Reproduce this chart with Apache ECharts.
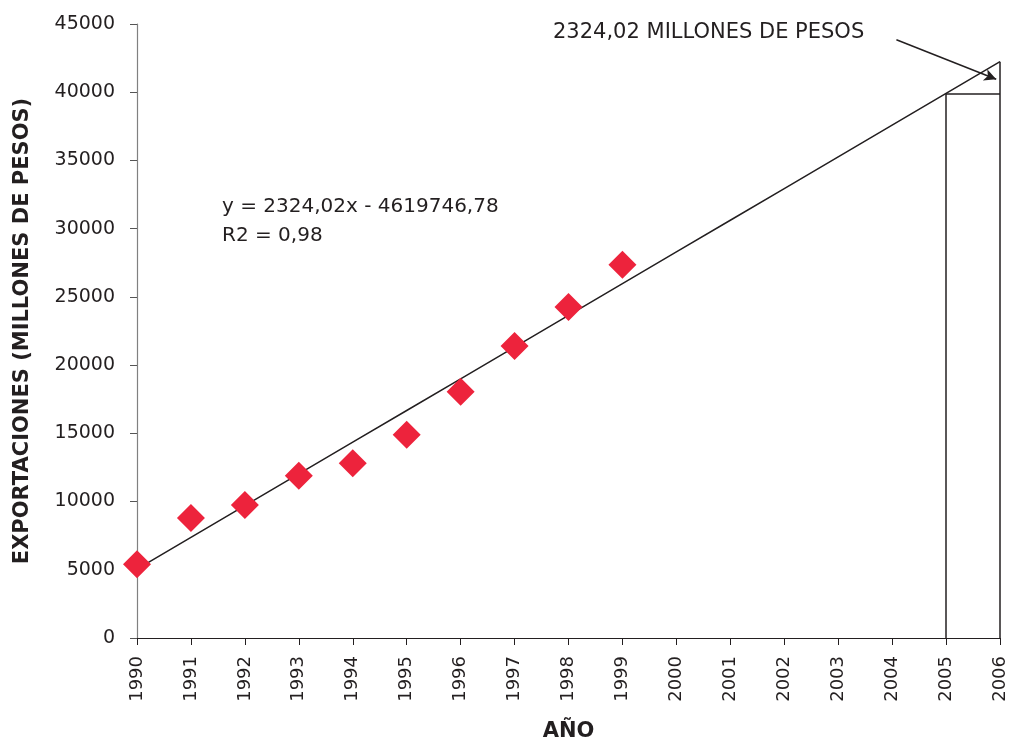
<!DOCTYPE html>
<html>
<head>
<meta charset="utf-8">
<script src="https://cdn.jsdelivr.net/npm/echarts@6/dist/echarts.min.js"></script>
<style>
  html, body { margin: 0; padding: 0; background: #fff; }
  #chart { width: 1010px; height: 742px; }
</style>
</head>
<body>
<div id="chart"></div>
<script>
// Exportaciones anuales (millones de pesos)
const years = [1990, 1991, 1992, 1993, 1994, 1995, 1996, 1997, 1998, 1999];
const exportaciones = [5400, 8800, 9750, 11900, 12800, 14900, 18050, 21400, 24250, 27350];

// Recta de tendencia: y = 2324,02x - 4619746,78
const slope = 2324.02;
const intercept = -4619746.78;
const trendYears = [1990, 1991, 1992, 1993, 1994, 1995, 1996, 1997, 1998, 1999,
                    2000, 2001, 2002, 2003, 2004, 2005, 2006];

const equationText = 'y = 2324,02x - 4619746,78';
const r2Text = 'R2 = 0,98';
const noteText = '2324,02 MILLONES DE PESOS';

const trend = x => slope * x + intercept;
const trendData = trendYears.map(x => [x, trend(x)]);
const y2005 = trend(2005);
const y2006 = trend(2006);

const chart = echarts.init(document.getElementById('chart'));
const fontFamily = '"DejaVu Sans", "Liberation Sans", Arial, sans-serif';
const ink = '#231f20';

chart.setOption({
  animation: false,
  textStyle: { fontFamily },
  grid: { left: 137, right: 10, top: 24, bottom: 104, containLabel: false, outerBoundsMode: 'none' },
  xAxis: {
    type: 'value',
    min: 1990, max: 2006, interval: 1,
    name: 'AÑO',
    nameLocation: 'middle',
    nameGap: 83,
    nameTextStyle: { fontSize: 21, fontWeight: 'bold', color: ink, fontFamily },
    axisLine: { lineStyle: { color: ink, width: 1.2 } },
    axisTick: { inside: false, length: 7, lineStyle: { color: ink } },
    axisLabel: {
      rotate: 90, margin: 18, fontSize: 18, color: ink, fontFamily,
      formatter: v => String(v)
    },
    splitLine: { show: false }
  },
  yAxis: {
    type: 'value',
    min: 0, max: 45000, interval: 5000,
    name: 'EXPORTACIONES (MILLONES DE PESOS)',
    nameLocation: 'middle',
    nameGap: 104,
    nameTextStyle: { fontSize: 21, fontWeight: 'bold', color: ink, fontFamily },
    axisLine: { show: true, lineStyle: { color: '#808080', width: 1.2 } },
    axisTick: { show: true, length: 7, lineStyle: { color: '#555' } },
    axisLabel: {
      margin: 22, fontSize: 19, color: ink, fontFamily,
      formatter: v => String(v)
    },
    splitLine: { show: false }
  },
  series: [
    {
      name: 'Tendencia',
      type: 'line',
      data: trendData,
      showSymbol: false,
      symbol: 'none',
      lineStyle: { color: ink, width: 1.5 },
      z: 2,
      markLine: {
        silent: true,
        symbol: 'none',
        lineStyle: { color: ink, width: 1.5, type: 'solid' },
        label: { show: false },
        data: [
          [{ coord: [2005, 0] }, { coord: [2005, y2005] }],
          [{ coord: [2005, y2005] }, { coord: [2006, y2005] }],
          [{ coord: [2006, 0] }, { coord: [2006, y2006] }]
        ]
      }
    },
    {
      name: 'Nota',
      type: 'line',
      data: [],
      markLine: {
        silent: true,
        symbol: ['none', 'arrow'],
        symbolSize: [9, 12],
        lineStyle: { color: ink, width: 1.5, type: 'solid' },
        label: { show: false },
        data: [
          [{ coord: [2004.08, 43850] }, { coord: [2005.93, 40950] }]
        ]
      }
    },
    {
      name: 'Exportaciones',
      type: 'scatter',
      data: years.map((y, i) => [y, exportaciones[i]]),
      symbol: 'diamond',
      symbolSize: [28, 28],
      itemStyle: { color: '#ED233C', opacity: 1 },
      z: 5
    }
  ],
  graphic: [
    {
      type: 'text', left: 222, top: 197,
      style: { text: equationText, fontSize: 20, fill: ink, fontFamily }
    },
    {
      type: 'text', left: 222, top: 226,
      style: { text: r2Text, fontSize: 20, fill: ink, fontFamily }
    },
    {
      type: 'text', left: 553, top: 22,
      style: { text: noteText, fontSize: 21, fill: ink, fontFamily }
    }
  ]
});
</script>
</body>
</html>
